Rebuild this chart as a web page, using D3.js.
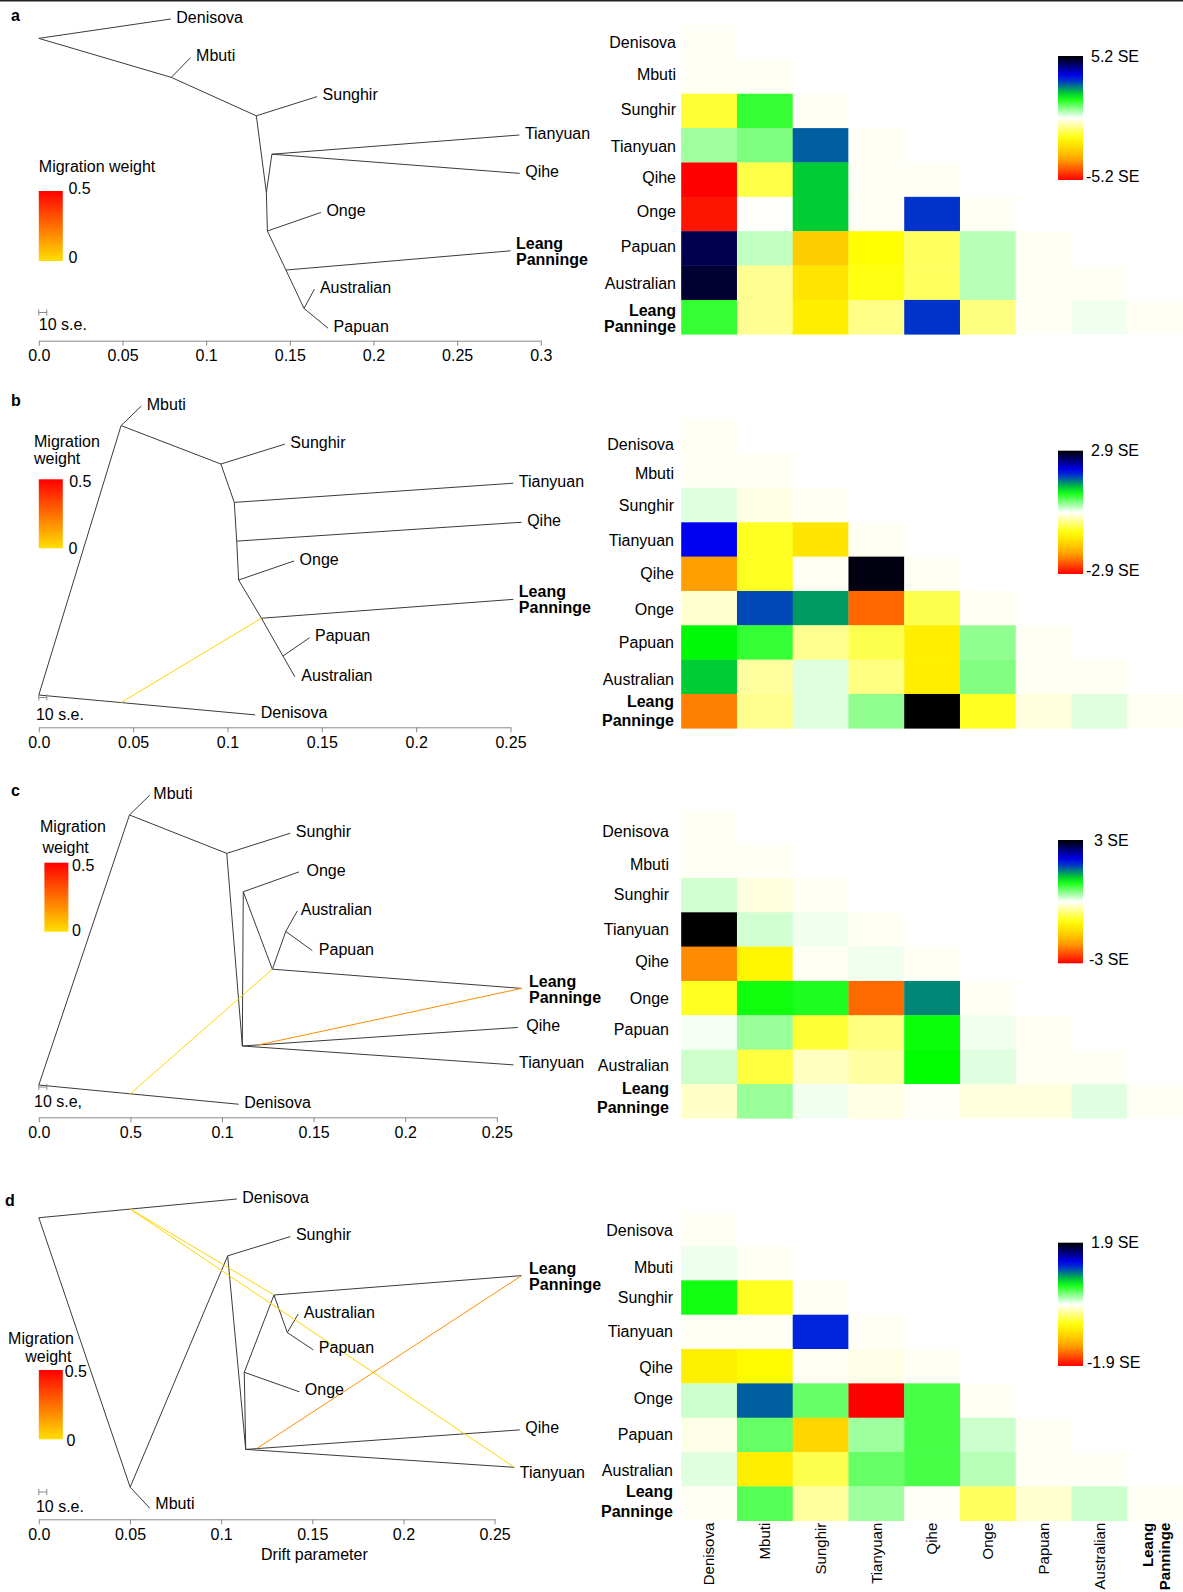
<!DOCTYPE html>
<html><head><meta charset="utf-8">
<script src="https://cdn.jsdelivr.net/npm/d3@7"></script>
<style>
body{margin:0;background:#fff;}
svg{display:block;font-family:"Liberation Sans", Arial, Helvetica, sans-serif;}
</style></head><body>
<svg id="chart" width="1183" height="1592"></svg>
<script>
// ---------------- DATA ----------------
const populations = ["Denisova","Mbuti","Sunghir","Tianyuan","Qihe","Onge","Papuan","Australian","Leang Panninge"];
const panelLetters = ["a","b","c","d"];
const seMax = [5.2, 2.9, 3, 1.9];
const seLabels = [["5.2 SE","-5.2 SE"],["2.9 SE","-2.9 SE"],["3 SE","-3 SE"],["1.9 SE","-1.9 SE"]];

// residuals (in SE units), lower triangle, rows/cols in population order
const residA = [
  [-0.07],
  [-0.07,-0.07],
  [-1.39, 1.39,-0.07],
  [ 0.65, 0.87, 2.82,-0.07],
  [-5.2, -1.25, 2.08,-0.07,-0.07],
  [-4.99,-0.02, 2.08,-0.07, 3.12,-0.07],
  [ 4.66, 0.43,-2.7, -1.73,-1.08, 0.48,-0.07],
  [ 4.85,-0.75,-2.24,-1.62,-1.08, 0.48,-0.07,-0.07],
  [ 1.39,-0.75,-2.06,-0.81, 3.12,-0.87,-0.07, 0.1,-0.07]
];
const residB = [
  [-0.04],
  [-0.04,-0.04],
  [ 0.12,-0.1,-0.04],
  [ 1.99,-0.84,-1.24,-0.04],
  [-1.96,-0.84,-0.04, 2.84,-0.04],
  [-0.18, 1.66, 1.35,-2.3,-0.67,-0.04],
  [ 0.99, 0.77,-0.42,-0.67,-1.15, 0.42,-0.04],
  [ 1.16,-0.36, 0.12,-0.48,-1.15, 0.48,-0.04,-0.04],
  [-2.15,-0.42, 0.12, 0.42, 2.9,-0.84,-0.12, 0.12,-0.04]
];
const residC = [
  [-0.04],
  [-0.04,-0.04],
  [ 0.18,-0.12,-0.04],
  [ 3.0, 0.18, 0.06,-0.04],
  [-2.15,-1.11,-0.04, 0.06,-0.04],
  [-0.87, 0.94, 0.88,-2.36, 1.47,-0.04],
  [ 0.04, 0.4,-0.8,-0.5, 0.96, 0.06,-0.04],
  [ 0.2,-0.75,-0.25,-0.37, 1.0, 0.12,-0.04,-0.04],
  [-0.22, 0.4, 0.06,-0.1,-0.03,-0.12,-0.12, 0.12,-0.04]
];
const residD = [
  [-0.025],
  [ 0.04,-0.025],
  [ 0.59,-0.55,-0.025],
  [-0.025,-0.025, 1.18,-0.025],
  [-0.74,-0.66,-0.025,-0.06,-0.025],
  [ 0.13, 1.03, 0.38,-1.9, 0.46,-0.025],
  [-0.06, 0.38,-0.92, 0.24, 0.46, 0.13,-0.025],
  [ 0.08,-0.75,-0.44, 0.38, 0.46, 0.18,-0.025,-0.025],
  [-0.025, 0.42,-0.24, 0.24,-0.02,-0.4,-0.12, 0.13,-0.025]
];

// drift axis ticks
const driftTicksA = [0,0.05,0.1,0.15,0.2,0.25,0.3];
const driftTickLabelsA = ["0.0","0.05","0.1","0.15","0.2","0.25","0.3"];
const driftTicksBCD = [0,0.05,0.1,0.15,0.2,0.25];
const driftTickLabelsB = ["0.0","0.05","0.1","0.15","0.2","0.25"];
const driftTickLabelsC = ["0.0","0.5","0.1","0.15","0.2","0.25"];
const driftTickLabelsD = ["0.0","0.05","0.1","0.15","0.2","0.25"];

// tree nodes: [id, drift, vertical position (0..1)]
const nodesA = [
  ["root",0,0.073],["Denisova",0.0789,0.0125],["N1",0.0792,0.195],["Mbuti",0.0907,0.133],
  ["N2",0.130,0.315],["Sunghir",0.1663,0.255],["N3",0.136,0.555],["TQ",0.1393,0.435],
  ["Tianyuan",0.2872,0.375],["Qihe",0.2874,0.495],["N4",0.1366,0.675],["Onge",0.1686,0.617],
  ["N5",0.1477,0.797],["Leang Panninge",0.2819,0.737],["N6",0.1585,0.917],
  ["Australian",0.1647,0.857],["Papuan",0.1729,0.979]
];
const edgesA = [["root","Denisova"],["root","N1"],["N1","Mbuti"],["N1","N2"],["N2","Sunghir"],["N2","N3"],
  ["N3","TQ"],["TQ","Tianyuan"],["TQ","Qihe"],["N3","N4"],["N4","Onge"],["N4","N5"],["N5","Leang Panninge"],
  ["N5","N6"],["N6","Australian"],["N6","Papuan"]];
const migrationsA = [];

const nodesB = [
  ["root",0,0.922],["N1",0.0436,0.080],["Mbuti",0.0543,0.019],["Denisova",0.1147,0.984],
  ["N2",0.0965,0.2],["Sunghir",0.1304,0.138],["N3",0.1036,0.32],["Tianyuan",0.2515,0.26],
  ["N4",0.1049,0.441],["Qihe",0.2559,0.382],["N5",0.1059,0.5625],["Onge",0.1353,0.503],
  ["N6",0.118,0.682],["Leang Panninge",0.2515,0.623],["N7",0.1294,0.8],["Papuan",0.1435,0.743],
  ["Australian",0.1357,0.865]
];
const edgesB = [["root","N1"],["N1","Mbuti"],["root","Denisova"],["N1","N2"],["N2","Sunghir"],["N2","N3"],
  ["N3","Tianyuan"],["N3","N4"],["N4","Qihe"],["N4","N5"],["N5","Onge"],["N5","N6"],["N6","Leang Panninge"],
  ["N6","N7"],["N7","Papuan"],["N7","Australian"]];
// [edge parent, edge child, fraction along edge, target node, weight]
const migrationsB = [["root","Denisova",0.38,"N6",0.02]];

const nodesC = [
  ["root",0,0.922],["N1",0.0495,0.078],["Mbuti",0.0606,0.016],["Denisova",0.1091,0.982],
  ["N2",0.1026,0.198],["Sunghir",0.1373,0.135],["N3",0.1111,0.8],["N4",0.1116,0.318],
  ["Onge",0.142,0.256],["N5",0.1275,0.56],["Leang Panninge",0.2635,0.62],["N6",0.1348,0.442],
  ["Australian",0.1411,0.378],["Papuan",0.1493,0.502],["Qihe",0.2615,0.742],["Tianyuan",0.2591,0.859]
];
const edgesC = [["root","N1"],["N1","Mbuti"],["root","Denisova"],["N1","N2"],["N2","Sunghir"],["N2","N3"],
  ["N3","N4"],["N4","Onge"],["N4","N5"],["N5","Leang Panninge"],["N5","N6"],["N6","Australian"],["N6","Papuan"],
  ["N3","Qihe"],["N3","Tianyuan"]];
const migrationsC = [["root","Denisova",0.457,"N5",0.02],["N3","Qihe",0.058,"Leang Panninge",0.18]];

const nodesD = [
  ["root",0,0.071],["Denisova",0.1086,0.0125],["N1",0.0501,0.913],["Mbuti",0.0609,0.979],
  ["N2",0.1036,0.19],["Sunghir",0.138,0.13],["N3",0.1135,0.795],["N4",0.1127,0.554],
  ["Onge",0.1429,0.615],["N5",0.129,0.3125],["Leang Panninge",0.2648,0.252],["N6",0.1363,0.43],
  ["Australian",0.1423,0.372],["Papuan",0.1506,0.484],["Qihe",0.2638,0.734],["Tianyuan",0.2608,0.851]
];
const edgesD = [["root","Denisova"],["root","N1"],["N1","Mbuti"],["N1","N2"],["N2","Sunghir"],["N2","N3"],
  ["N3","N4"],["N4","Onge"],["N4","N5"],["N5","Leang Panninge"],["N5","N6"],["N6","Australian"],["N6","Papuan"],
  ["N3","Qihe"],["N3","Tianyuan"]];
const migrationsD = [["root","Denisova",0.462,"N5",0.02],["root","Denisova",0.462,"Tianyuan",0.02],
  ["N3","Qihe",0.04,"Leang Panninge",0.18]];

const legendTitles = [["Migration weight"],["Migration","weight"],["Migration","weight"],["Migration","weight"]];
const seTexts = ["10 s.e.","10 s.e.","10 s.e,","10 s.e."];
const xAxisTitle = "Drift parameter";

// ---------------- LAYOUT ----------------
const panels = [
  {resid:residA, nodes:nodesA, edges:edgesA, mig:migrationsA, ticks:driftTicksA, tickLabels:driftTickLabelsA,
   xr:[38.8,540.8], yr:[15,335], axisY:340.7, letter:[11,21],
   legendPos:[[38.8,166]], bar:[38.8,191,24,70], barLab:[[68.4,188],[68.4,257]],
   sbar:[38.8,312.5], seText:[38.8,324.5], hmTop:25, hmH:309.3, rowLabX:676,
   rowLabDy:[0,-2,-2,1,-2,-3,-2,1,1], lpGap:8.2,
   cbar:[1058,56,25,124], cbLabX:[1091,1086], labShift:{}},
  {resid:residB, nodes:nodesB, edges:edgesB, mig:migrationsB, ticks:driftTicksBCD, tickLabels:driftTickLabelsB,
   xr:[38.8,510.5], yr:[400,720], axisY:727.3, letter:[11,406],
   legendPos:[[34,441],[34,458.3]], bar:[38.8,479.3,24,69], barLab:[[69.2,481.7],[68.4,548.3]],
   sbar:[38.8,697.5], seText:[35.9,714], hmTop:419.3, hmH:309, rowLabX:674,
   rowLabDy:[8,3,0,1,0,1,0,3,0], lpGap:9.7,
   cbar:[1058,450.7,25,123.3], cbLabX:[1091,1086], labShift:{"Australian":[1,1]}},
  {resid:residC, nodes:nodesC, edges:edgesC, mig:migrationsC, ticks:driftTicksBCD, tickLabels:driftTickLabelsC,
   xr:[38.8,496.8], yr:[790,1110], axisY:1117.3, letter:[11,796],
   legendPos:[[40,826],[42.5,847.7]], bar:[44.4,862.7,24,69], barLab:[[72.1,865],[72.1,930.7]],
   sbar:[38.8,1087], seText:[34,1101], hmTop:809.3, hmH:309, rowLabX:669,
   rowLabDy:[5,4,-1,0,-2,0,-3,-1,-3], lpGap:9.7,
   cbar:[1058,840,25,123.3], cbLabX:[1094,1089], labShift:{"Onge":[2,0],"Papuan":[1,1],"Leang Panninge":[2,0],"Qihe":[3,0],"Mbuti":[-2,0],"Australian":[-2,0]}},
  {resid:residD, nodes:nodesD, edges:edgesD, mig:migrationsD, ticks:driftTicksBCD, tickLabels:driftTickLabelsD,
   xr:[38.8,494.6], yr:[1195,1515], axisY:1519.3, letter:[5,1206],
   legendPos:[[8.1,1338.3],[25.2,1356.7]], bar:[38.8,1370,24,69.3], barLab:[[64.7,1371],[66.6,1440.7]],
   sbar:[38.8,1492], seText:[35.9,1506.7], hmTop:1211.7, hmH:309, rowLabX:673,
   rowLabDy:[2,4,0,0,1,-2,0,1,-2], lpGap:9.7,
   cbar:[1058,1242.7,25,123.3], cbLabX:[1091,1087], labShift:{"Tianyuan":[0,7],"Mbuti":[0,-3],"Leang Panninge":[2,0]}}
];

// ---------------- DRAW ----------------
const svg = d3.select("#chart");
const defs = svg.append("defs");
const FS = 16;

svg.append("rect").attr("x",0).attr("y",0).attr("width",1183).attr("height",1.5).attr("fill","#222");

const residColor = d3.scaleLinear()
  .domain([-1,-2/3,-1/3,0,1/3,2/3,1])
  .range(["#FF0000","#FFA500","#FFFF00","#FFFFFF","#00FF00","#0000FF","#000000"])
  .clamp(true);
const migColor = d3.scaleLinear().domain([0,0.5]).range(["#FFDE00","#FF0000"]).clamp(true);

// gradients
const gRes = defs.append("linearGradient").attr("id","resGrad").attr("x1",0).attr("y1",0).attr("x2",0).attr("y2",1);
d3.range(0,1.0001,0.05).forEach(f => {
  gRes.append("stop").attr("offset",f).attr("stop-color",residColor(1-2*f));
});
const gMig = defs.append("linearGradient").attr("id","migGrad").attr("x1",0).attr("y1",0).attr("x2",0).attr("y2",1);
d3.range(0,1.0001,0.1).forEach(f => {
  gMig.append("stop").attr("offset",f).attr("stop-color",migColor(0.5*(1-f)));
});

const colBand = d3.scaleBand().domain(populations).range([681.2,1183]).padding(0);

panels.forEach((P,pi) => {
  const g = svg.append("g");
  const x = d3.scaleLinear().domain([P.ticks[0], P.ticks[P.ticks.length-1]]).range(P.xr);
  const y = d3.scaleLinear().domain([0,1]).range(P.yr);
  const nodeMap = new Map(P.nodes.map(n => [n[0], {id:n[0], px:x(n[1]), py:y(n[2])}]));

  // panel letter
  g.append("text").attr("x",P.letter[0]).attr("y",P.letter[1]).attr("font-size",16).attr("font-weight","bold").text(panelLetters[pi]);

  // tree edges
  g.append("g").selectAll("line").data(P.edges).join("line")
    .attr("x1",d=>nodeMap.get(d[0]).px).attr("y1",d=>nodeMap.get(d[0]).py)
    .attr("x2",d=>nodeMap.get(d[1]).px).attr("y2",d=>nodeMap.get(d[1]).py)
    .attr("stroke","#3a3a3a").attr("stroke-width",1);

  // migrations
  g.append("g").selectAll("line").data(P.mig).join("line")
    .attr("x1",d=>{const a=nodeMap.get(d[0]),b=nodeMap.get(d[1]);return a.px+d[2]*(b.px-a.px);})
    .attr("y1",d=>{const a=nodeMap.get(d[0]),b=nodeMap.get(d[1]);return a.py+d[2]*(b.py-a.py);})
    .attr("x2",d=>nodeMap.get(d[3]).px).attr("y2",d=>nodeMap.get(d[3]).py)
    .attr("stroke",d=>migColor(d[4])).attr("stroke-width",1);

  // tip labels
  const tips = P.nodes.filter(n => populations.includes(n[0]));
  tips.forEach(n => {
    const nd = nodeMap.get(n[0]);
    const sh = P.labShift[n[0]] || [0,0];
    const tx = nd.px + 5.5 + sh[0], ty = nd.py - 2 + sh[1];
    if (n[0] === "Leang Panninge") {
      const t = g.append("text").attr("font-size",FS).attr("font-weight","bold");
      t.append("tspan").attr("x",tx).attr("y",nd.py-7.5+sh[1]).attr("dy","0.35em").text("Leang");
      t.append("tspan").attr("x",tx).attr("y",nd.py+8.5+sh[1]).attr("dy","0.35em").text("Panninge");
    } else {
      g.append("text").attr("x",tx).attr("y",ty).attr("dy","0.35em").attr("font-size",FS).text(n[0]);
    }
  });

  // axis
  const ax = d3.axisBottom(x).tickValues(P.ticks).tickFormat((d,i)=>P.tickLabels[i])
    .tickSize(5).tickSizeOuter(0).tickPadding(4);
  const ag = g.append("g").attr("transform",`translate(0,${P.axisY})`).call(ax);
  ag.select(".domain").attr("stroke","#8a8a8a");
  ag.selectAll(".tick line").attr("stroke","#8a8a8a");
  ag.selectAll(".tick text").attr("font-size",FS).attr("fill","#000").attr("font-family",'"Liberation Sans", Arial, sans-serif');

  // migration weight legend
  legendTitles[pi].forEach((s,i) => {
    g.append("text").attr("x",P.legendPos[i][0]).attr("y",P.legendPos[i][1]).attr("dy","0.35em").attr("font-size",FS).text(s);
  });
  g.append("rect").attr("x",P.bar[0]).attr("y",P.bar[1]).attr("width",P.bar[2]).attr("height",P.bar[3]).attr("fill","url(#migGrad)");
  g.append("text").attr("x",P.barLab[0][0]).attr("y",P.barLab[0][1]).attr("dy","0.35em").attr("font-size",FS).text("0.5");
  g.append("text").attr("x",P.barLab[1][0]).attr("y",P.barLab[1][1]).attr("dy","0.35em").attr("font-size",FS).text("0");

  // scale bar
  const sb = g.append("g").attr("stroke","#888").attr("stroke-width",1);
  sb.append("line").attr("x1",P.sbar[0]).attr("x2",P.sbar[0]+8).attr("y1",P.sbar[1]).attr("y2",P.sbar[1]);
  sb.append("line").attr("x1",P.sbar[0]).attr("x2",P.sbar[0]).attr("y1",P.sbar[1]-3).attr("y2",P.sbar[1]+3);
  sb.append("line").attr("x1",P.sbar[0]+8).attr("x2",P.sbar[0]+8).attr("y1",P.sbar[1]-3).attr("y2",P.sbar[1]+3);
  g.append("text").attr("x",P.seText[0]).attr("y",P.seText[1]).attr("dy","0.35em").attr("font-size",FS).text(seTexts[pi]);

  // heatmap
  const rowBand = d3.scaleBand().domain(populations).range([P.hmTop, P.hmTop+P.hmH]).padding(0);
  const cells = [];
  P.resid.forEach((row,i) => row.forEach((v,j) => cells.push({r:populations[i], c:populations[j], v})));
  g.append("g").selectAll("rect").data(cells).join("rect")
    .attr("x",d=>colBand(d.c)).attr("y",d=>rowBand(d.r))
    .attr("width",colBand.bandwidth()+0.3).attr("height",rowBand.bandwidth()+0.3)
    .attr("fill",d=>residColor(d.v/seMax[pi]));

  populations.forEach((p,i) => {
    const cy = rowBand(p) + rowBand.bandwidth()/2 + P.rowLabDy[i];
    if (p === "Leang Panninge") {
      const t = g.append("text").attr("font-size",FS).attr("font-weight","bold").attr("text-anchor","end");
      t.append("tspan").attr("x",P.rowLabX).attr("y",cy-P.lpGap).attr("dy","0.35em").text("Leang");
      t.append("tspan").attr("x",P.rowLabX).attr("y",cy+P.lpGap).attr("dy","0.35em").text("Panninge");
    } else {
      g.append("text").attr("x",P.rowLabX).attr("y",cy).attr("dy","0.35em").attr("text-anchor","end").attr("font-size",FS).text(p);
    }
  });

  // residual colorbar
  g.append("rect").attr("x",P.cbar[0]).attr("y",P.cbar[1]).attr("width",P.cbar[2]).attr("height",P.cbar[3])
    .attr("fill","url(#resGrad)");
  g.append("text").attr("x",P.cbLabX[0]).attr("y",P.cbar[1]).attr("dy","0.35em").attr("font-size",FS).text(seLabels[pi][0]);
  g.append("text").attr("x",P.cbLabX[1]).attr("y",P.cbar[1]+P.cbar[3]-4).attr("dy","0.35em").attr("font-size",FS).text(seLabels[pi][1]);

  // bottom column labels (last panel)
  if (pi === panels.length-1) {
    const yTop = P.hmTop + P.hmH + 2;
    const CFS = 15;
    populations.forEach(p => {
      const cx = colBand(p) + colBand.bandwidth()/2;
      if (p === "Leang Panninge") {
        const t = g.append("text").attr("font-size",CFS).attr("font-weight","bold").attr("text-anchor","end")
          .attr("transform",`translate(${cx},${yTop}) rotate(-90)`);
        t.append("tspan").attr("x",0).attr("y",-7.5).attr("dy","0.35em").text("Leang");
        t.append("tspan").attr("x",0).attr("y",9.5).attr("dy","0.35em").text("Panninge");
      } else {
        g.append("text").attr("font-size",CFS).attr("text-anchor","end")
          .attr("transform",`translate(${cx},${yTop}) rotate(-90)`).attr("dy","0.35em").text(p);
      }
    });
    g.append("text").attr("x",314.4).attr("y",1554).attr("dy","0.35em").attr("text-anchor","middle").attr("font-size",FS).text(xAxisTitle);
  }
});
</script>
</body></html>
